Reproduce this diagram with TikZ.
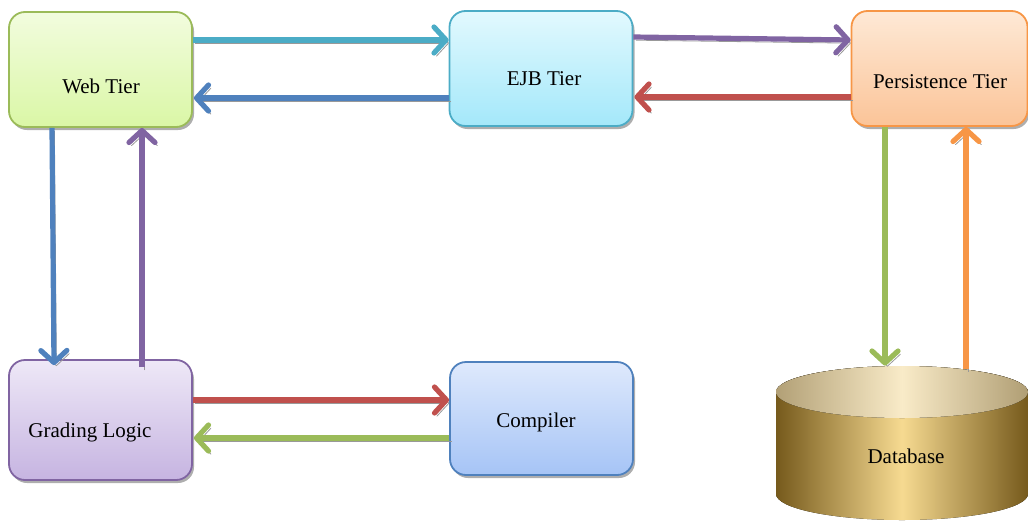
\documentclass[tikz,border=0pt]{standalone}
\usepackage{fontspec}
\setmainfont{Liberation Serif}
\usetikzlibrary{arrows.meta,shadows,calc}
\definecolor{cgreen}{HTML}{9BBB59}
\definecolor{cteal}{HTML}{4BACC6}
\definecolor{corange}{HTML}{F79646}
\definecolor{cpurple}{HTML}{8064A2}
\definecolor{cblue}{HTML}{4F81BD}
\definecolor{cred}{HTML}{C0504D}
\tikzset{
  tier/.style={draw, rounded corners=8pt, line width=0.9pt, minimum width=91.5pt, minimum height=57.5pt,
    inner sep=0pt, font=\fontsize{10.5pt}{12pt}\selectfont,
    drop shadow={shadow xshift=1pt, shadow yshift=-1.5pt, fill=black!45, opacity=0.7}},
  conn/.style={line width=2.6pt, draw=#1, -{Straight Barb[length=6pt,width=13pt,line cap=round,line join=round]},
    preaction={draw=black!40, transform canvas={shift={(1.2pt,-1.6pt)}}}},
}
\begin{document}
\begin{tikzpicture}[x=0.5pt,y=-0.5pt]
\useasboundingbox (0,0) rectangle (1028,520);
% boxes
\node[tier, draw=cgreen, top color={rgb,255:red,242;green,252;blue,222}, bottom color={rgb,255:red,218;green,247;blue,166}] (web) at (100.5,69.5) {};
\node[font=\fontsize{10.5pt}{12pt}\selectfont] at (101,86) {Web Tier};
\node[tier, draw=cteal, top color={rgb,255:red,226;green,249;blue,254}, bottom color={rgb,255:red,164;green,232;blue,250}] (ejb) at (541,68.5) {};
\node[font=\fontsize{10.5pt}{12pt}\selectfont] at (544,79) {EJB Tier};
\node[tier, draw=corange, minimum width=88pt, top color={rgb,255:red,254;green,233;blue,214}, bottom color={rgb,255:red,251;green,196;blue,152}] (pers) at (939.5,68.5) {};
\node[font=\fontsize{10.5pt}{12pt}\selectfont] at (940,82) {Persistence Tier};
\node[tier, draw=cpurple, minimum height=60pt, top color={rgb,255:red,238;green,232;blue,247}, bottom color={rgb,255:red,198;green,180;blue,225}] (grade) at (100.5,420) {};
\node[font=\fontsize{10.5pt}{12pt}\selectfont] at (90,432) {Grading Logic};
\node[tier, draw=cblue, minimum height=56.5pt, top color={rgb,255:red,222;green,233;blue,252}, bottom color={rgb,255:red,166;green,196;blue,246}] (comp) at (541.5,418.5) {};
\node[font=\fontsize{10.5pt}{12pt}\selectfont] at (536,422) {Compiler};
% database cylinder
\fill[left color={rgb,255:red,118;green,90;blue,28}, right color={rgb,255:red,118;green,90;blue,28}, middle color={rgb,255:red,246;green,218;blue,145}]
  (776,392) -- (776,494) arc[start angle=180,end angle=360,x radius=63pt,y radius=13pt] -- (1028,392)
  arc[start angle=0,end angle=180,x radius=63pt,y radius=13pt] -- cycle;
\fill[left color={rgb,255:red,178;green,160;blue,118}, right color={rgb,255:red,176;green,158;blue,116}, middle color={rgb,255:red,249;green,235;blue,200}]
  (902,392) ellipse[x radius=63pt, y radius=13pt];
\node[inner sep=0pt, minimum width=126pt, minimum height=77pt] (db) at (902,443) {};
\node[font=\fontsize{10.5pt}{12pt}\selectfont] at (906,456) {Database};
% connectors
\draw[conn=cteal] (web.east |- 0,40) -- (ejb.west |- 0,40);
\draw[conn=cblue] (ejb.west |- 0,98) -- ([xshift=0.5pt]web.east |- 0,98);
\draw[conn=cpurple] (ejb.east |- 0,37) -- (pers.west |- 0,40);
\draw[conn=cred] (pers.west |- 0,97) -- ([xshift=0.5pt]ejb.east |- 0,97);
\draw[conn=cblue] (web.south -| 52,0) -- ([yshift=-3pt]grade.north -| 54,0);
\draw[conn=cpurple] ([yshift=-4pt]grade.north -| 142,0) -- (web.south -| 142,0);
\draw[conn=cred] (grade.east |- 0,400) -- (comp.west |- 0,400);
\draw[conn=cgreen] (comp.west |- 0,438) -- ([xshift=0.5pt]grade.east |- 0,438);
\draw[conn=cgreen] (pers.south -| 885,0) -- (db.north -| 885,0);
\draw[conn=corange] ([yshift=-1.5pt]db.north -| 966,0) -- (pers.south -| 966,0);
\end{tikzpicture}
\end{document}
